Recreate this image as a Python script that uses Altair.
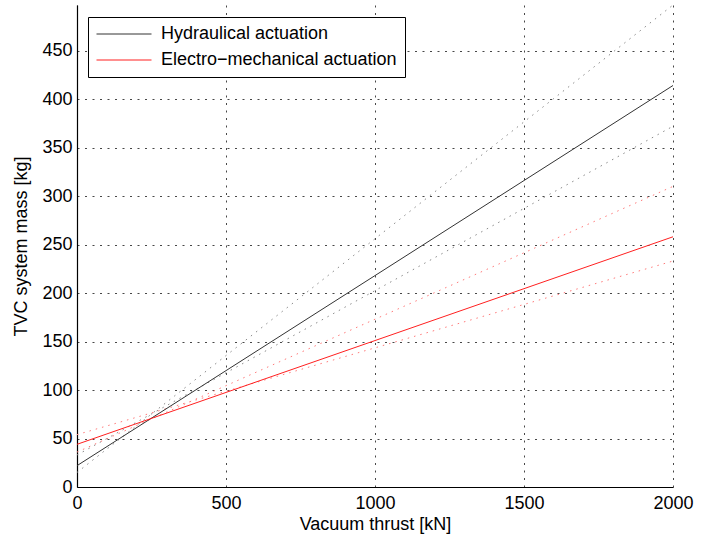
import altair as alt
import pandas as pd

# Values
thrust = [0, 2000]
hyd_fit = [22, 414]
hyd_hi = [15, 497]
hyd_lo = [33, 372]
em_fit = [44, 258]
em_hi = [36, 310]
em_lo = [54, 233]

series_names = ["Hydraulical actuation", "Electro\u2212mechanical actuation"]
x_ticks = [0, 500, 1000, 1500, 2000]
y_ticks = [0, 50, 100, 150, 200, 250, 300, 350, 400, 450]

solid_rows = []
for name, vals in [(series_names[0], hyd_fit), (series_names[1], em_fit)]:
    for t, m in zip(thrust, vals):
        solid_rows.append({"series": name, "thrust": t, "mass": m})
solid_df = pd.DataFrame(solid_rows)

dot_rows = []
for key, grp, vals in [("hyd_hi", series_names[0], hyd_hi), ("hyd_lo", series_names[0], hyd_lo),
                       ("em_hi", series_names[1], em_hi), ("em_lo", series_names[1], em_lo)]:
    for t, m in zip(thrust, vals):
        dot_rows.append({"key": key, "group": grp, "thrust": t, "mass": m})
dot_df = pd.DataFrame(dot_rows)

FONT = "Liberation Sans"
FS = 18

x_enc = alt.X("thrust:Q", scale=alt.Scale(domain=[0, 2000], nice=False),
              axis=alt.Axis(values=x_ticks, title="Vacuum thrust [kN]", grid=True, labelFlush=False,
                            tickSize=0, labelPadding=7, titlePadding=3, format="d"))
y_enc = alt.Y("mass:Q", scale=alt.Scale(domain=[0, 497], nice=False),
              axis=alt.Axis(values=y_ticks, title="TVC system mass [kg]", grid=True, labelFlush=False,
                            tickSize=0, labelPadding=5, titlePadding=11, format="d"))

dotted = alt.Chart(dot_df).mark_line(strokeWidth=1, strokeDash=[1.5, 5]).encode(
    x=x_enc, y=y_enc,
    detail="key:N",
    color=alt.Color("group:N", scale=alt.Scale(domain=series_names, range=["#8a8a8a", "#ff7a7a"]),
                    legend=None),
)

solid = alt.Chart(solid_df).mark_line(strokeWidth=1).encode(
    x=x_enc, y=y_enc,
    color=alt.Color("series:N", sort=series_names,
                    scale=alt.Scale(domain=series_names, range=["#333333", "#ff2020"]),
                    legend=alt.Legend(title=None, orient="none", legendX=11, legendY=12,
                                      strokeColor="black", fillColor="white", padding=8,
                                      symbolType="stroke", symbolSize=3025, symbolStrokeWidth=1,
                                      clipHeight=18,
                                      labelFontSize=FS, labelFont=FONT, labelColor="black",
                                      labelOffset=9, rowPadding=8, labelLimit=400)),
)

chart = alt.layer(dotted, solid).resolve_scale(color="independent").properties(
    width=596, height=482,
    autosize=alt.AutoSizeParams(type="none"),
    padding={"left": 77, "top": 5, "right": 35, "bottom": 53},
    background="white",
).configure_view(stroke=None).configure_axis(
    labelFont=FONT, titleFont=FONT, labelFontSize=FS, titleFontSize=FS,
    titleFontWeight="normal", labelColor="black", titleColor="black",
    domainColor="black", domainWidth=1.2,
    gridColor="#333333", gridDash=[2, 5.5], gridWidth=1, gridOpacity=0.9,
)

chart.save("out.html", embed_options={"renderer": "svg", "actions": False})
